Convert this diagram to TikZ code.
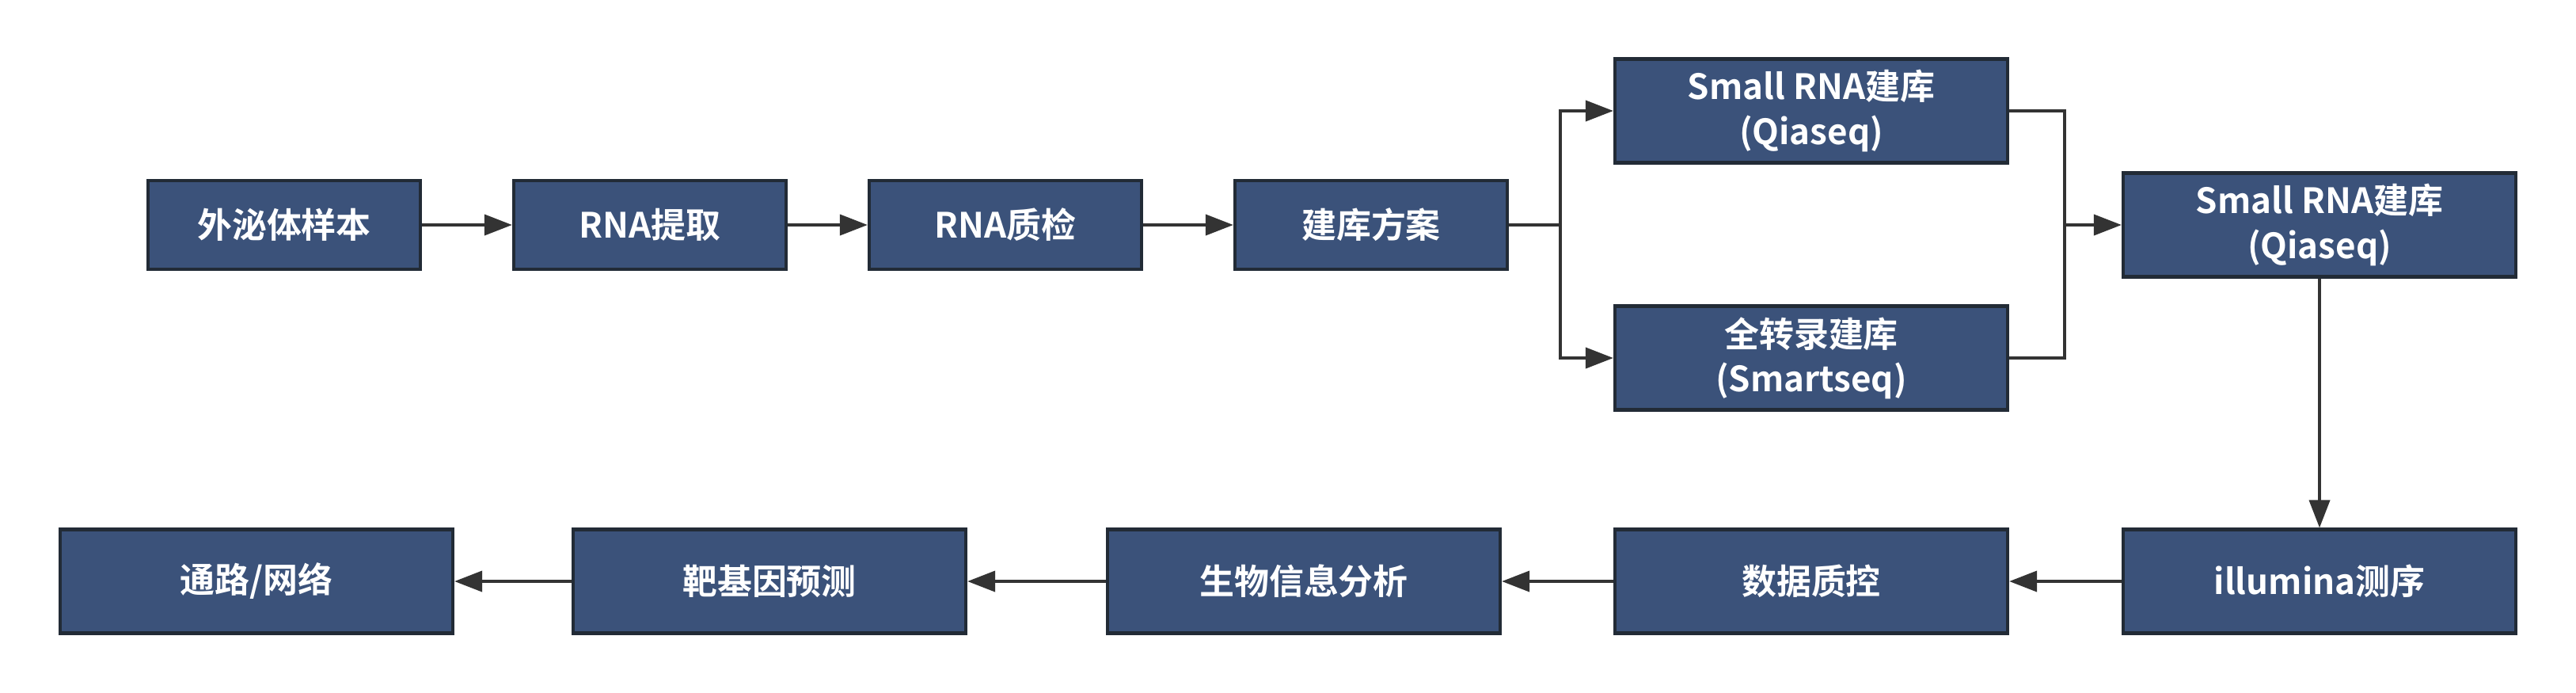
\documentclass[tikz,border=0pt]{standalone}
\usepackage{fontspec}
\setmainfont{Noto Sans CJK SC}[BoldFont={Noto Sans CJK SC Bold}]
\usetikzlibrary{arrows.meta}
\definecolor{boxfill}{HTML}{3B527A}
\definecolor{boxline}{HTML}{222B36}
\definecolor{linkcol}{HTML}{333333}

\begin{document}
\begin{tikzpicture}[>={Triangle[length=3.5mm,width=2.6mm]},line width=1.1pt,
  box/.style={draw=boxline,line width=1.2pt,fill=boxfill,text=white,align=center,
    font=\fontsize{12.5}{16}\selectfont\bfseries,inner sep=0pt},
  smallbox/.style={box,minimum width=3.44cm,minimum height=1.12cm},
  bigbox/.style={box,minimum width=4.96cm,minimum height=1.31cm},
  link/.style={draw=linkcol}]
  \useasboundingbox (0,0) rectangle (32.54,-8.74);
  % top row
  \node[smallbox] (sample) at (3.59,-2.84) {外泌体样本};
  \node[smallbox] (extract) at (8.21,-2.84) {RNA提取};
  \node[smallbox] (qc) at (12.70,-2.84) {RNA质检};
  \node[smallbox] (plan) at (17.32,-2.84) {建库方案};
  \node[bigbox] (qia) at (22.88,-1.40) {Small RNA建库\\(Qiaseq)};
  \node[bigbox] (smart) at (22.88,-4.52) {全转录建库\\(Smartseq)};
  \node[bigbox] (lib) at (29.30,-2.84) {Small RNA建库\\(Qiaseq)};
  % bottom row
  \node[bigbox] (seq) at (29.30,-7.34) {illumina测序};
  \node[bigbox] (dataqc) at (22.88,-7.34) {数据质控};
  \node[bigbox] (bioinfo) at (16.47,-7.34) {生物信息分析};
  \node[bigbox] (target) at (9.72,-7.34) {靶基因预测};
  \node[bigbox] (pathway) at (3.24,-7.34) {通路/网络};
  \coordinate (fork) at (19.71,-2.84);
  \coordinate (merge) at (26.08,-2.84);
  \draw[link,->] (sample) -- (extract);
  \draw[link,->] (extract) -- (qc);
  \draw[link,->] (qc) -- (plan);
  \draw[link] (plan) -- (fork);
  \draw[link,->] (fork) |- (qia.west);
  \draw[link,->] (fork) |- (smart.west);
  \draw[link] (qia.east) -| (merge);
  \draw[link] (smart.east) -| (merge);
  \draw[link,->] (merge) -- (lib);
  \draw[link,->] (lib) -- (seq);
  \draw[link,->] (seq) -- (dataqc);
  \draw[link,->] (dataqc) -- (bioinfo);
  \draw[link,->] (bioinfo) -- (target);
  \draw[link,->] (target) -- (pathway);
\end{tikzpicture}
\end{document}
